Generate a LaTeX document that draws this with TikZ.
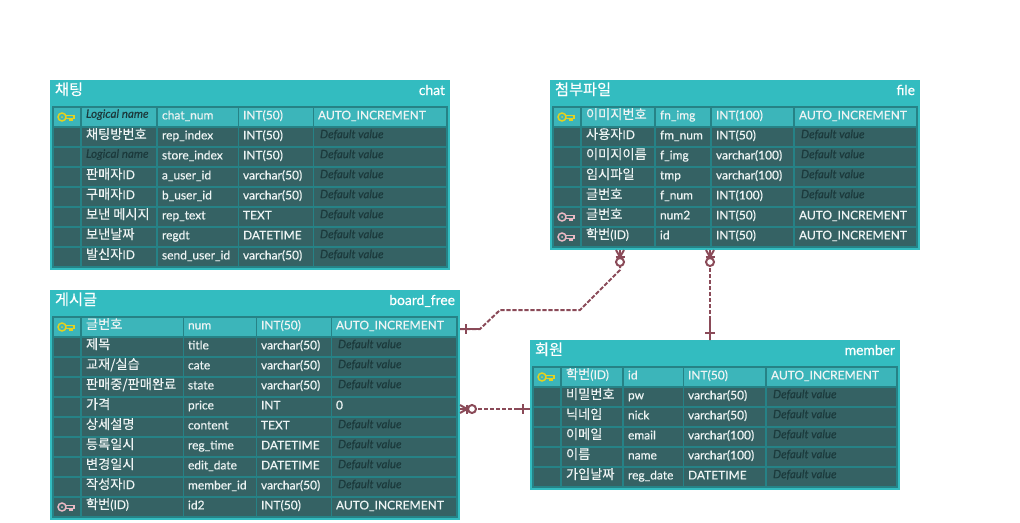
\documentclass[tikz,border=0pt]{standalone}
\usepackage{fontspec}
\setmainfont[RawFeature={embolden=0.35}]{Lato}
\newfontfamily\kr[Scale=1.1,RawFeature={embolden=0.2}]{Noto Sans CJK KR}
\definecolor{headbg}{HTML}{33BCC0}
\definecolor{gridbg}{HTML}{268286}
\definecolor{rowdark}{HTML}{356264}
\definecolor{rowlight}{HTML}{3CB5BA}
\definecolor{txt}{HTML}{EEF4F4}
\definecolor{phtxt}{HTML}{1C3A3C}
\definecolor{relcol}{HTML}{8A4A58}
\definecolor{keypk}{HTML}{E6D21C}
\definecolor{keyfk}{HTML}{EAB9C4}
\tikzset{
  celltext/.style={anchor=base west,inner sep=0pt,outer sep=0pt,text=txt,font=\fontsize{9.0pt}{11pt}\selectfont},
  titletext/.style={inner sep=0pt,outer sep=0pt,text=white,font=\fontsize{10.4pt}{12pt}\selectfont},
  tablebox/.style={draw=none,fill=headbg,inner sep=0pt,outer sep=0pt,anchor=north west},
  rel/.style={draw=relcol,line width=1.5pt},
  reldash/.style={draw=relcol,line width=1.5pt,dash pattern=on 3.2pt off 1.3pt},
  keyline/.style={line width=1.1pt,fill=none}
}
\newcommand\keyicon[3]{% x, y (row top), colour
  \begin{scope}[shift={(#1,#2)}]
    \draw[keyline,draw=#3] (8,9) circle (4);
    \fill[#3] (8,9) circle (1);
    \draw[keyline,draw=#3] (12,7.5) -- (20,7.5) -- (20,11) (12,10.5) -- (16,10.5) -- (16,12.5) -- (18,12.5) -- (18,10.5) -- (20,10.5);
  \end{scope}}
\newcommand\setcols[9]{\def\cola{#1}\def\colb{#2}\def\colc{#3}\def\cold{#4}\def\cole{#5}\def\colf{#6}\def\colg{#7}\def\colh{#8}\def\coli{#9}\setcolsb}
\newcommand\setcolsb[2]{\def\colj{#1}\def\coly{#2}}
\newcommand\trow[7]{% table, row, icon, logical, physical, type, default
  \pgfmathsetmacro\yy{\coly+20*(#2-1)}
  \ifnum#2=1\def\rowc{rowlight}\else\def\rowc{rowdark}\fi
  \fill[\rowc] (\cola,\yy) rectangle (\colb,\yy+18);
  \fill[\rowc] (\colc,\yy) rectangle (\cold,\yy+18);
  \fill[\rowc] (\cole,\yy) rectangle (\colf,\yy+18);
  \fill[\rowc] (\colg,\yy) rectangle (\colh,\yy+18);
  \fill[\rowc] (\coli,\yy) rectangle (\colj,\yy+18);
  #3
  \node[celltext] (#1-#2-l) at ({\colc+4},{\yy+11}) {#4};
  \node[celltext] (#1-#2-p) at ({\cole+4},{\yy+11.4}) {#5};
  \node[celltext] (#1-#2-t) at ({\colg+4},{\yy+11.4}) {#6};
  \node[celltext] (#1-#2-d) at ({\coli+4},{\yy+11.4}) {#7};
}
\newcommand\pkey{\keyicon{\cola}{\yy}{keypk}}
\newcommand\fkey{\keyicon{\cola}{\yy}{keyfk}}
\newcommand\LN{\textcolor{phtxt}{\fontsize{8.7pt}{10pt}\selectfont\itshape\raisebox{0.9pt}{Logical name}}}
\newcommand\DV{\hspace*{1.5pt}\textcolor{phtxt}{\fontsize{8.6pt}{10pt}\selectfont\itshape\raisebox{0.9pt}{Default value}}}
\newcommand\K[1]{{\kr #1}}
\begin{document}
\begin{tikzpicture}[x=0.75pt,y=-0.75pt]
\useasboundingbox (0,0) rectangle (1020,522);

% ---------- chat
\node[tablebox,minimum width=300pt,minimum height=142.5pt] (chat) at (50,80) {};
\fill[gridbg] (52,106) rectangle (448,268);
\node[titletext,anchor=base west] (chat-title) at (55,95) {\K{채팅}};
\node[titletext,anchor=base east] (chat-name) at (445,95) {chat};
\setcols{54}{80}{82}{156}{158}{238}{239}{313}{314}{446}{108}
\trow{chat}{1}{\pkey}{\LN}{chat\_num}{INT(50)}{AUTO\_INCREMENT}
\trow{chat}{2}{}{\K{채팅방번호}}{rep\_index}{INT(50)}{\DV}
\trow{chat}{3}{}{\LN}{store\_index}{INT(50)}{\DV}
\trow{chat}{4}{}{\K{판매자}ID}{a\_user\_id}{varchar(50)}{\DV}
\trow{chat}{5}{}{\K{구매자}ID}{b\_user\_id}{varchar(50)}{\DV}
\trow{chat}{6}{}{\K{보낸 메시지}}{rep\_text}{TEXT}{\DV}
\trow{chat}{7}{}{\K{보낸날짜}}{regdt}{DATETIME}{\DV}
\trow{chat}{8}{}{\K{발신자}ID}{send\_user\_id}{varchar(50)}{\DV}

% ---------- file
\node[tablebox,minimum width=277.5pt,minimum height=127.5pt] (file) at (550,80) {};
\fill[gridbg] (552,106) rectangle (918,248);
\node[titletext,anchor=base west] (file-title) at (555,95) {\K{첨부파일}};
\node[titletext,anchor=base east] (file-name) at (915,95) {file};
\setcols{554}{580}{582}{654}{656}{710}{712}{793}{795}{916}{108}
\trow{file}{1}{\pkey}{\K{이미지번호}}{fn\_img}{INT(100)}{AUTO\_INCREMENT}
\trow{file}{2}{}{\K{사용자}ID}{fm\_num}{INT(50)}{\DV}
\trow{file}{3}{}{\K{이미지이름}}{f\_img}{varchar(100)}{\DV}
\trow{file}{4}{}{\K{임시파일}}{tmp}{varchar(100)}{\DV}
\trow{file}{5}{}{\K{글번호}}{f\_num}{INT(100)}{\DV}
\trow{file}{6}{\fkey}{\K{글번호}}{num2}{INT(50)}{AUTO\_INCREMENT}
\trow{file}{7}{\fkey}{\K{학번}(ID)}{id}{INT(50)}{AUTO\_INCREMENT}

% ---------- board_free
\node[tablebox,minimum width=307.5pt,minimum height=172.5pt] (board) at (50,290) {};
\fill[gridbg] (52,316) rectangle (458,518);
\node[titletext,anchor=base west] (board-title) at (55,305) {\K{게시글}};
\node[titletext,anchor=base east] (board-name) at (455,305) {board\_free};
\setcols{54}{80}{82}{183}{184}{256}{257}{331}{332}{456}{318}
\trow{board}{1}{\pkey}{\K{글번호}}{num}{INT(50)}{AUTO\_INCREMENT}
\trow{board}{2}{}{\K{제목}}{title}{varchar(50)}{\DV}
\trow{board}{3}{}{\K{교재/실습}}{cate}{varchar(50)}{\DV}
\trow{board}{4}{}{\K{판매중/판매완료}}{state}{varchar(50)}{\DV}
\trow{board}{5}{}{\K{가격}}{price}{INT}{0}
\trow{board}{6}{}{\K{상세설명}}{content}{TEXT}{\DV}
\trow{board}{7}{}{\K{등록일시}}{reg\_time}{DATETIME}{\DV}
\trow{board}{8}{}{\K{변경일시}}{edit\_date}{DATETIME}{\DV}
\trow{board}{9}{}{\K{작성자}ID}{member\_id}{varchar(50)}{\DV}
\trow{board}{10}{\fkey}{\K{학번}(ID)}{id2}{INT(50)}{AUTO\_INCREMENT}

% ---------- member
\node[tablebox,minimum width=277.5pt,minimum height=112.5pt] (member) at (530,340) {};
\fill[gridbg] (532,366) rectangle (898,488);
\node[titletext,anchor=base west] (member-title) at (535,355) {\K{회원}};
\node[titletext,anchor=base east] (member-name) at (895,355) {member};
\setcols{534}{560}{562}{622}{624}{683}{684}{765}{767}{896}{368}
\trow{member}{1}{\pkey}{\K{학번}(ID)}{id}{INT(50)}{AUTO\_INCREMENT}
\trow{member}{2}{}{\K{비밀번호}}{pw}{varchar(50)}{\DV}
\trow{member}{3}{}{\K{닉네임}}{nick}{varchar(50)}{\DV}
\trow{member}{4}{}{\K{이메일}}{email}{varchar(100)}{\DV}
\trow{member}{5}{}{\K{이름}}{name}{varchar(100)}{\DV}
\trow{member}{6}{}{\K{가입날짜}}{reg\_date}{DATETIME}{\DV}

% ---------- connectors
\coordinate (fa) at (620,250);
\coordinate (fb) at (710,250);
\coordinate (ba) at (460,329);
\coordinate (bb) at (460,409);
\coordinate (ma) at (710,340);
\coordinate (mb) at (530,409);
\coordinate (w1) at (480,329);
\coordinate (w2) at (500,310);
\coordinate (w3) at (580,310);
\coordinate (w4) at (620,270);
\coordinate (w5) at (620,266);

\draw[reldash] (ba) -- (w1) -- (w2) -- (w3) -- (w4) -- (w5);
\draw[rel] (ba) -- (w1);
\draw[rel] (466,324) -- (466,334);
\draw[rel] (fa) -- (620,258);
\draw[rel] (616,250) -- (620,257) -- (624,250);
\draw[rel] (615.5,257) -- (624.5,257);
\draw[rel,fill=white] (620,262) circle (4);

\draw[reldash] (fb) -- (ma);
\draw[rel] (710,318) -- (ma);
\draw[rel] (705,333) -- (715,333);
\draw[rel] (fb) -- (710,258);
\draw[rel] (706,250) -- (710,257) -- (714,250);
\draw[rel] (705.5,257) -- (714.5,257);
\draw[rel,fill=white] (710,262) circle (4);

\draw[reldash] (bb) -- (mb);
\draw[rel] (515,409) -- (mb);
\draw[rel] (523,404) -- (523,414);
\draw[rel] (bb) -- (468,409);
\draw[rel] (460,405) -- (467,409) -- (460,413);
\draw[rel] (467,404.5) -- (467,413.5);
\draw[rel,fill=white] (472,409) circle (4);
\end{tikzpicture}
\end{document}
